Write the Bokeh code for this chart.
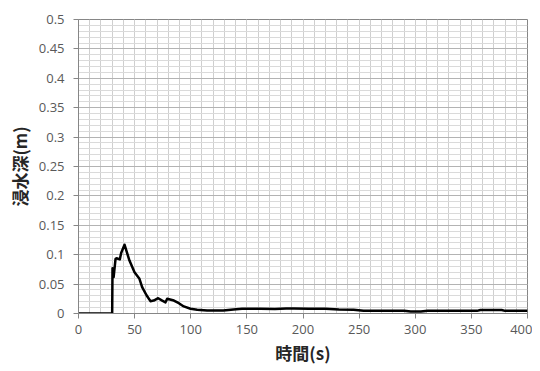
from bokeh.plotting import figure
from bokeh.models import SingleIntervalTicker, Range1d
from bokeh.embed import file_html
from bokeh.resources import INLINE

# data
time_s = [0, 30.0, 30.3, 31.3, 33.0, 33.9, 36.8, 38.0, 41.0, 45.4, 49.9, 54.3, 56.7,
          60.6, 64.1, 67.0, 71.0, 74.6, 77.5, 79.0, 85.0, 89.4, 93.8, 99.8, 105.7,
          114.6, 129.0, 138.0, 145.7, 162.0, 175.0, 185.0, 192.0, 205.0, 220.0,
          232.0, 245.0, 254.0, 270.0, 290.0, 296.0, 305.0, 311.0, 330.0, 355.0,
          358.0, 377.0, 380.0, 400.0]
depth_m = [0, 0, 0.077, 0.062, 0.093, 0.094, 0.092, 0.103, 0.117, 0.090, 0.070, 0.059,
           0.045, 0.031, 0.021, 0.022, 0.026, 0.022, 0.019, 0.025, 0.022, 0.0175, 0.012,
           0.008, 0.0065, 0.005, 0.005, 0.007, 0.008, 0.008, 0.0075, 0.0085, 0.0085,
           0.008, 0.008, 0.007, 0.0065, 0.0045, 0.0045, 0.0045, 0.0035, 0.0035, 0.0045,
           0.0045, 0.0045, 0.006, 0.006, 0.0045, 0.0045]

y_ticks = [0, 0.05, 0.1, 0.15, 0.2, 0.25, 0.3, 0.35, 0.4, 0.45, 0.5]
y_tick_labels = ["0", "0.05", "0.1", "0.15", "0.2", "0.25", "0.3", "0.35", "0.4", "0.45", "0.5"]
x_label = "時間(s)"
y_label = "浸水深(m)"

p = figure(width=532, height=368, output_backend="svg", toolbar_location=None,
           x_range=Range1d(0, 400), y_range=Range1d(0, 0.5),
           min_border_left=78, min_border_right=5, min_border_top=19, min_border_bottom=55)
p.background_fill_color = "white"
p.border_fill_color = "white"
p.outline_line_color = "#868686"
p.outline_line_width = 1

p.xaxis.ticker = SingleIntervalTicker(interval=50, num_minor_ticks=5)
p.yaxis.ticker = SingleIntervalTicker(interval=0.05, num_minor_ticks=5)
p.yaxis.major_label_overrides = {t: l for t, l in zip(y_ticks, y_tick_labels)}

p.xgrid.grid_line_color = "#cfcfcf"
p.xgrid.minor_grid_line_color = "#cfcfcf"
p.ygrid.grid_line_color = "#b3b3b3"
p.ygrid.minor_grid_line_color = "#dadada"

for ax in (p.xaxis, p.yaxis):
    ax.axis_line_color = "#868686"
    ax.major_tick_line_color = "#868686"
    ax.major_tick_out = 5
    ax.major_tick_in = 0
    ax.minor_tick_line_color = None
    ax.major_label_text_font = "Open Sans"
    ax.major_label_text_font_size = "13px"
    ax.major_label_text_color = "#595959"
    ax.axis_label_text_font = "Noto Sans CJK JP"
    ax.axis_label_text_font_style = "bold"
    ax.axis_label_text_font_size = "17px"
    ax.axis_label_text_color = "#262626"

p.xaxis.axis_label = x_label
p.yaxis.axis_label = y_label
p.xaxis.major_label_standoff = 6
p.yaxis.major_label_standoff = 9
p.xaxis.axis_label_standoff = 3
p.yaxis.axis_label_standoff = 4

p.line(time_s, depth_m, line_color="black", line_width=2.5, line_join="round")

open("out.html", "w").write(file_html(p, INLINE))
